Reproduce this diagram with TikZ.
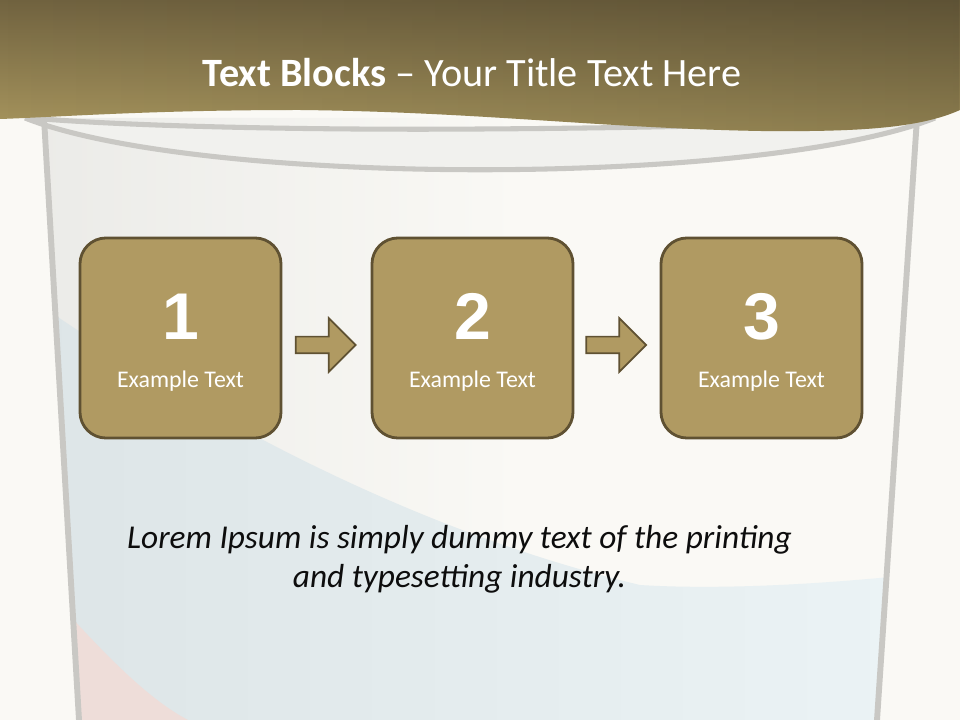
\documentclass[tikz,border=0pt]{standalone}
\usepackage{fontspec}
\setmainfont{Carlito}
\newfontfamily\numfont{Liberation Sans}
\usetikzlibrary{positioning,shapes.arrows,calc,fadings}

\definecolor{paper}{HTML}{FAF9F5}
\definecolor{rimgrey}{HTML}{C9C8C4}
\definecolor{rimtop}{HTML}{F1F1EE}
\definecolor{wallgrey}{HTML}{EAEAE7}
\definecolor{waterA}{HTML}{DDE5E7}
\definecolor{waterB}{HTML}{EBF3F5}
\definecolor{blush}{HTML}{EEDDD9}
\definecolor{hdrlight}{HTML}{A8965E}
\definecolor{hdrdark}{HTML}{716340}
\definecolor{boxfill}{HTML}{B09A62}
\definecolor{boxline}{HTML}{5F5132}

\begin{document}
\begin{tikzpicture}[x=0.025cm,y=-0.025cm,
  block/.style={draw=boxline, fill=boxfill, line width=2pt,
    rounded corners=0.65cm, minimum width=5.025cm, minimum height=5cm},
  flow/.style={single arrow, draw=boxline, fill=boxfill, line width=1.2pt,
    inner xsep=0pt, inner ysep=0.1875cm, minimum height=1.5cm,
    single arrow head extend=0.4625cm, single arrow tip angle=90},
  num/.style={text=white, anchor=base, font=\numfont\bfseries\fontsize{47}{50}\selectfont},
  caption/.style={text=white, anchor=base, font=\fontsize{17}{20}\selectfont},
  lorem/.style={text=black!95, anchor=base, font=\itshape\fontsize{23.7}{28}\selectfont},
  rim/.style={draw=rimgrey, line width=3.6pt}]

  \useasboundingbox (0,0) rectangle (960,720);
  \fill[paper] (0,0) rectangle (960,720);

  % cup
  \coordinate (LT) at (44,118);
  \coordinate (LB) at (79,720);
  \coordinate (RT) at (917,118);
  \coordinate (RB) at (877,720);

  \begin{scope}
    \clip (LT) -- (LB) -- (RB) -- (RT) -- cycle;
    \shade[left color=wallgrey, right color=paper] (0,110) rectangle (520,720);
    \shade[left color=waterA, right color=waterB]
      (30,298) .. controls (220,430) and (430,535) .. (640,585)
      .. controls (720,590) and (820,584) .. (900,576) -- (900,720) -- (30,720) -- cycle;
    \fill[blush] (60,605) .. controls (110,660) and (150,700) .. (188,720) -- (60,720) -- cycle;
  \end{scope}

  % rim
  \fill[rimtop] (25,118) .. controls (150,128) and (350,130) .. (480,129)
    .. controls (650,128) and (820,124) .. (935,118)
    .. controls (760,187) and (200,187) .. (25,118) -- cycle;
  \draw[rim] (30,118) .. controls (150,128) and (350,130) .. (480,129)
    .. controls (650,128) and (820,124) .. (930,118);
  \draw[rim] (25,118) .. controls (200,187) and (760,187) .. (935,118);
  \draw[draw=rimgrey, line width=4.2pt] (LT) -- (LB);
  \draw[draw=rimgrey, line width=4.2pt] (RT) -- (RB);

  % header
  \def\hdrpath{(0,0) -- (960,0) -- (960,110)
    .. controls (920,128) and (860,132) .. (760,131)
    .. controls (600,128) and (480,112) .. (300,110)
    .. controls (150,110) and (60,117) .. (0,119) -- cycle}
  \shade[top color=hdrdark, bottom color=hdrlight] \hdrpath;
  \fill[black, fill opacity=0.17, path fading=west] \hdrpath;
  \node[text=white, anchor=base, font=\fontsize{28.6}{32}\selectfont] (title) at (472,87)
    {\textbf{Text Blocks} -- Your Title Text Here};

  % blocks
  \node[block] (b1) at (180.5,338) {};
  \node[block] (b2) at (472.5,338) {};
  \node[block] (b3) at (761.5,338) {};

  \node[num] (n1) at ($(b1.center)+(0,2)$) {1};
  \node[num] (n2) at ($(b2.center)+(0,2)$) {2};
  \node[num] (n3) at ($(b3.center)+(0,2)$) {3};

  \node[caption] (c1) at ($(b1.center)+(0,50)$) {Example Text};
  \node[caption] (c2) at ($(b2.center)+(0,50)$) {Example Text};
  \node[caption] (c3) at ($(b3.center)+(0,50)$) {Example Text};

  \node[flow] (a1) at ($(b1.east)!0.5!(b2.west)+(-5,7)$) {};
  \node[flow] (a2) at ($(b2.east)!0.5!(b3.west)+(-5,7)$) {};

  % text
  \node[lorem] (l1) at (459.5,548) {Lorem Ipsum is simply dummy text of the printing};
  \node[lorem] (l2) at (459.5,587) {and typesetting industry.};

\end{tikzpicture}
\end{document}
